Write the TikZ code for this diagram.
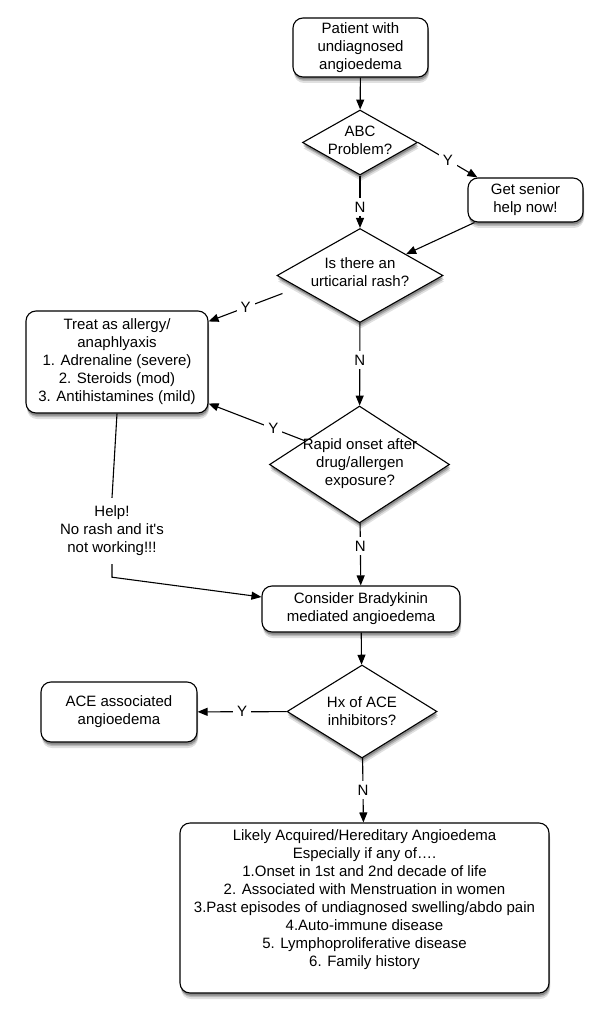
\documentclass[tikz,border=0pt]{standalone}
\usepackage{fontspec}
\setmainfont{Liberation Sans}[Ligatures=TeXOff]
\usetikzlibrary{shapes.geometric,arrows.meta,calc,shadows}
\begin{document}
\begin{tikzpicture}[x=1pt,y=-1pt,
  font=\fontsize{15}{18}\selectfont,
  shd/.style={general shadow={shadow xshift=1pt,shadow yshift=-6pt,fill=black,opacity=0.12},
              general shadow={shadow xshift=1pt,shadow yshift=-4pt,fill=black,opacity=0.18},
              general shadow={shadow xshift=0.5pt,shadow yshift=-2.5pt,fill=black,opacity=0.25}},
  box/.style={draw,rounded corners=10pt,line width=1.1pt,fill=white,align=center,inner sep=0pt,shd},
  dia/.style={draw,diamond,line width=1.1pt,fill=white,inner sep=0pt,shd},
  txt/.style={align=center,inner sep=0pt},
  lbl/.style={fill=white,inner sep=4pt},
  arr/.style={line width=1.1pt,-{Triangle[length=10pt,width=8pt]}},
  ln/.style={line width=1.1pt}]
\useasboundingbox (0,0) rectangle (610,1024);

% nodes
\node[box,minimum width=135pt,minimum height=59pt] (pat) at (360.5,47.5) {Patient with\\undiagnosed\\angioedema};
\node[dia,minimum width=115pt,minimum height=65pt] (abc) at (360,142.5) {};
\node[txt] (abct) at (360,140.5) {ABC\\Problem?};
\node[box,minimum width=115pt,minimum height=44pt] (sen) at (525.5,200) {Get senior\\help now!};
\node[dia,minimum width=166pt,minimum height=94pt] (urt) at (360,275.5) {};
\node[txt] (urtt) at (360,272.5) {Is there an\\urticarial rash?};
\node[box,minimum width=182pt,minimum height=102pt] (trt) at (117,362) {Treat as allergy/\\anaphlyaxis\\1. Adrenaline (severe)\\2. Steroids (mod)\\3. Antihistamines (mild)};
\node[dia,minimum width=180pt,minimum height=117pt] (rap) at (359.5,464.5) {};
\node[txt] (rapt) at (360,463.5) {Rapid onset after\\drug/allergen\\exposure?};
\node[align=center,inner sep=8pt] (help) at (112,531) {Help!\\No rash and it's\\not working!!!};
\node[box,minimum width=198pt,minimum height=46pt] (con) at (361,609) {Consider Bradykinin\\mediated angioedema};
\node[dia,minimum width=150pt,minimum height=93pt] (hx) at (362,711.5) {};
\node[txt] (hxt) at (362,711) {Hx of ACE\\inhibitors?};
\node[box,minimum width=156pt,minimum height=60pt] (ace) at (119,712) {ACE associated\\angioedema};
\node[box,minimum width=369pt,minimum height=170pt] (lik) at (364.5,908) {};
\node[txt] (likt) at (364.5,899.5) {Likely Acquired/Hereditary Angioedema\\Especially if any of….\\1.Onset in 1st and 2nd decade of life\\2. Associated with Menstruation in women\\3.Past episodes of undiagnosed swelling/abdo pain\\4.Auto-immune disease\\5. Lymphoproliferative disease\\6. Family history};

% connectors
\draw[arr] (pat) -- (abc);
\draw[arr] (abc.east) -- node[lbl]{Y} ($(sen.north west)+(10,0)$);
\draw[arr] (abc) -- node[lbl,pos=0.6]{N} (urt);
\draw[arr] ($(sen.south west)+(7,0)$) -- (urt);
\draw[arr] ($(urt.west)+(6,18)$) -- node[lbl]{Y} ($(trt.north east)+(0,11)$);
\draw[arr] (urt) -- node[lbl,pos=0.45]{N} (rap);
\draw[arr] ($(rap.west)!0.4!(rap.north)$) -- node[lbl,pos=0.33]{Y} ($(trt.south east)+(0,-10)$);
\draw[arr] (rap) -- node[lbl,pos=0.37]{N} (con);
\draw[ln] (trt.south) -- (help.north);
\draw[arr] (help.south) -- ++(0,13) -- ($(con.west)+(0,-12)$);
\draw[arr] (con) -- (hx);
\draw[arr] (hx) -- node[lbl]{Y} (ace);
\draw[arr] (hx) -- node[lbl]{N} (lik);
\end{tikzpicture}
\end{document}
